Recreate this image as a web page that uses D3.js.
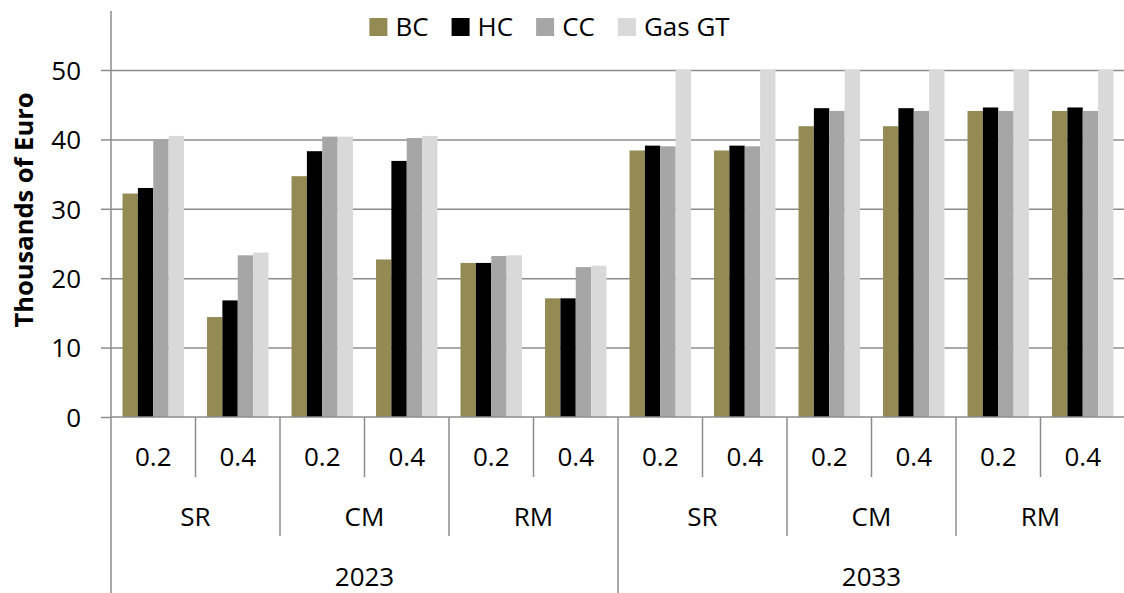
<!DOCTYPE html>
<html>
<head>
<meta charset="utf-8">
<script src="https://cdn.jsdelivr.net/npm/d3@7/dist/d3.min.js"></script>
<style>
  html, body { margin: 0; padding: 0; background: #fff; }
  svg { display: block; font-family: "Open Sans", "Noto Sans", sans-serif; }
</style>
</head>
<body>
<svg id="chart" width="1124" height="593"></svg>
<script>
// ---- data ----
const years = ["2023", "2033"];
const regions = ["SR", "CM", "RM"];
const shares = ["0.2", "0.4"];
const seriesNames = ["BC", "HC", "CC", "Gas GT"];
const seriesColors = ["#948A54", "#000000", "#A6A6A6", "#D9D9D9"];
const BC    = [32.2, 14.4, 34.7, 22.7, 22.2, 17.1, 38.4, 38.4, 41.9, 41.9, 44.1, 44.1];
const HC    = [33.0, 16.8, 38.3, 36.9, 22.2, 17.1, 39.1, 39.1, 44.5, 44.5, 44.6, 44.6];
const CC    = [40.0, 23.3, 40.4, 40.2, 23.2, 21.6, 39.0, 39.0, 44.1, 44.1, 44.1, 44.1];
const GasGT = [40.5, 23.7, 40.4, 40.5, 23.3, 21.8, 50.0, 50.0, 50.0, 50.0, 50.0, 50.0];
const yTicks = [0, 10, 20, 30, 40, 50];
const yTitle = "Thousands of Euro";

const seriesValues = [BC, HC, CC, GasGT];

(function () {
// build category list (year, region, share)
const cats = [];
years.forEach(yr => regions.forEach(rg => shares.forEach(sh => cats.push({ year: yr, region: rg, share: sh }))));

// ---- layout ----
const plotL = 111, plotR = 1125, plotT = 70, base = 417;
const svg = d3.select("#chart");
const grey = "#8c8c8c";

const y = d3.scaleLinear().domain([0, 50]).range([base, plotT]);
const x0 = d3.scaleBand().domain(d3.range(cats.length)).range([plotL, plotR]).paddingInner(0).paddingOuter(0);
const x1 = d3.scaleBand().domain(seriesNames).range([0, x0.bandwidth()]).paddingInner(0).paddingOuter(0.75);

// gridlines
svg.append("g")
  .attr("transform", `translate(${plotL},0)`)
  .call(d3.axisLeft(y).tickValues(yTicks.filter(d => d > 0)).tickSize(-(plotR - plotL)).tickFormat(""))
  .call(g => g.select(".domain").remove())
  .call(g => g.selectAll("line").attr("stroke", grey).attr("stroke-width", 1.5));

// bars
const groups = svg.append("g").selectAll("g")
  .data(cats.map((c, i) => i))
  .join("g")
  .attr("transform", i => `translate(${x0(i)},0)`);
groups.selectAll("rect")
  .data(i => seriesNames.map((s, k) => ({ s, k, v: seriesValues[k][i] })))
  .join("rect")
  .attr("x", d => x1(d.s))
  .attr("width", x1.bandwidth())
  .attr("y", d => y(Math.min(d.v, 50)))
  .attr("height", d => base - y(Math.min(d.v, 50)))
  .attr("fill", d => seriesColors[d.k]);

// y axis ticks + labels
svg.append("g")
  .attr("transform", `translate(${plotL},0)`)
  .call(d3.axisLeft(y).tickValues(yTicks).tickSizeInner(10).tickSizeOuter(0).tickPadding(20))
  .call(g => g.select(".domain").remove())
  .call(g => g.selectAll("line").attr("stroke", grey).attr("stroke-width", 1.5))
  .call(g => g.selectAll("text").attr("font-size", 26).attr("fill", "#000")
      .attr("font-family", "'Open Sans', sans-serif").attr("dy", "0.36em"));

// y axis line
svg.append("line").attr("x1", plotL).attr("x2", plotL).attr("y1", 11).attr("y2", 593)
  .attr("stroke", grey).attr("stroke-width", 1.5);
// x baseline
svg.append("line").attr("x1", plotL).attr("x2", plotR).attr("y1", base).attr("y2", base)
  .attr("stroke", grey).attr("stroke-width", 1.5);

// category separators (multi-level)
const sepLevels = [];
for (let i = 1; i < cats.length; i++) {
  let end;
  if (cats[i].year !== cats[i - 1].year) end = 593;
  else if (cats[i].region !== cats[i - 1].region) end = 536;
  else end = 477;
  sepLevels.push({ i, end });
}
svg.append("g").selectAll("line").data(sepLevels).join("line")
  .attr("x1", d => x0(d.i)).attr("x2", d => x0(d.i))
  .attr("y1", base).attr("y2", d => d.end)
  .attr("stroke", grey).attr("stroke-width", 1.5);

// level 1 labels
svg.append("g").selectAll("text").data(cats.map((c, i) => i)).join("text")
  .attr("x", i => x0(i) + x0.bandwidth() / 2)
  .attr("y", 466)
  .attr("text-anchor", "middle").attr("font-size", 26)
  .text(i => cats[i].share);

// level 2 labels
const regionGroups = [];
years.forEach((yr, a) => regions.forEach((rg, b) => {
  const start = (a * regions.length + b) * shares.length;
  regionGroups.push({ label: rg, start, end: start + shares.length });
}));
svg.append("g").selectAll("text").data(regionGroups).join("text")
  .attr("x", d => (x0(d.start) + x0(d.end - 1) + x0.bandwidth()) / 2)
  .attr("y", 526)
  .attr("text-anchor", "middle").attr("font-size", 26)
  .text(d => d.label);

// level 3 labels
const yearGroups = years.map((yr, a) => ({ label: yr, start: a * regions.length * shares.length, end: (a + 1) * regions.length * shares.length }));
svg.append("g").selectAll("text").data(yearGroups).join("text")
  .attr("x", d => (x0(d.start) + x0(d.end - 1) + x0.bandwidth()) / 2)
  .attr("y", 586)
  .attr("text-anchor", "middle").attr("font-size", 26)
  .text(d => d.label);

// y title
svg.append("text")
  .attr("transform", "translate(32.5,210) rotate(-90)")
  .attr("text-anchor", "middle")
  .attr("font-size", 25.5).attr("font-weight", "bold")
  .text(yTitle);

// legend
const legend = svg.append("g");
let cx = 0;
seriesNames.forEach((s, k) => {
  const g = legend.append("g");
  g.append("rect").attr("x", 0).attr("y", 18).attr("width", 18).attr("height", 18).attr("fill", seriesColors[k]);
  const t = g.append("text").attr("x", 26).attr("y", 36).attr("font-size", 26).text(s);
  const w = t.node().getComputedTextLength();
  g.attr("transform", `translate(${cx},0)`);
  cx += 26 + w + 23;
});
const totalW = cx - 23;
legend.attr("transform", `translate(${549.5 - totalW / 2},0)`);
})();
</script>
</body>
</html>
